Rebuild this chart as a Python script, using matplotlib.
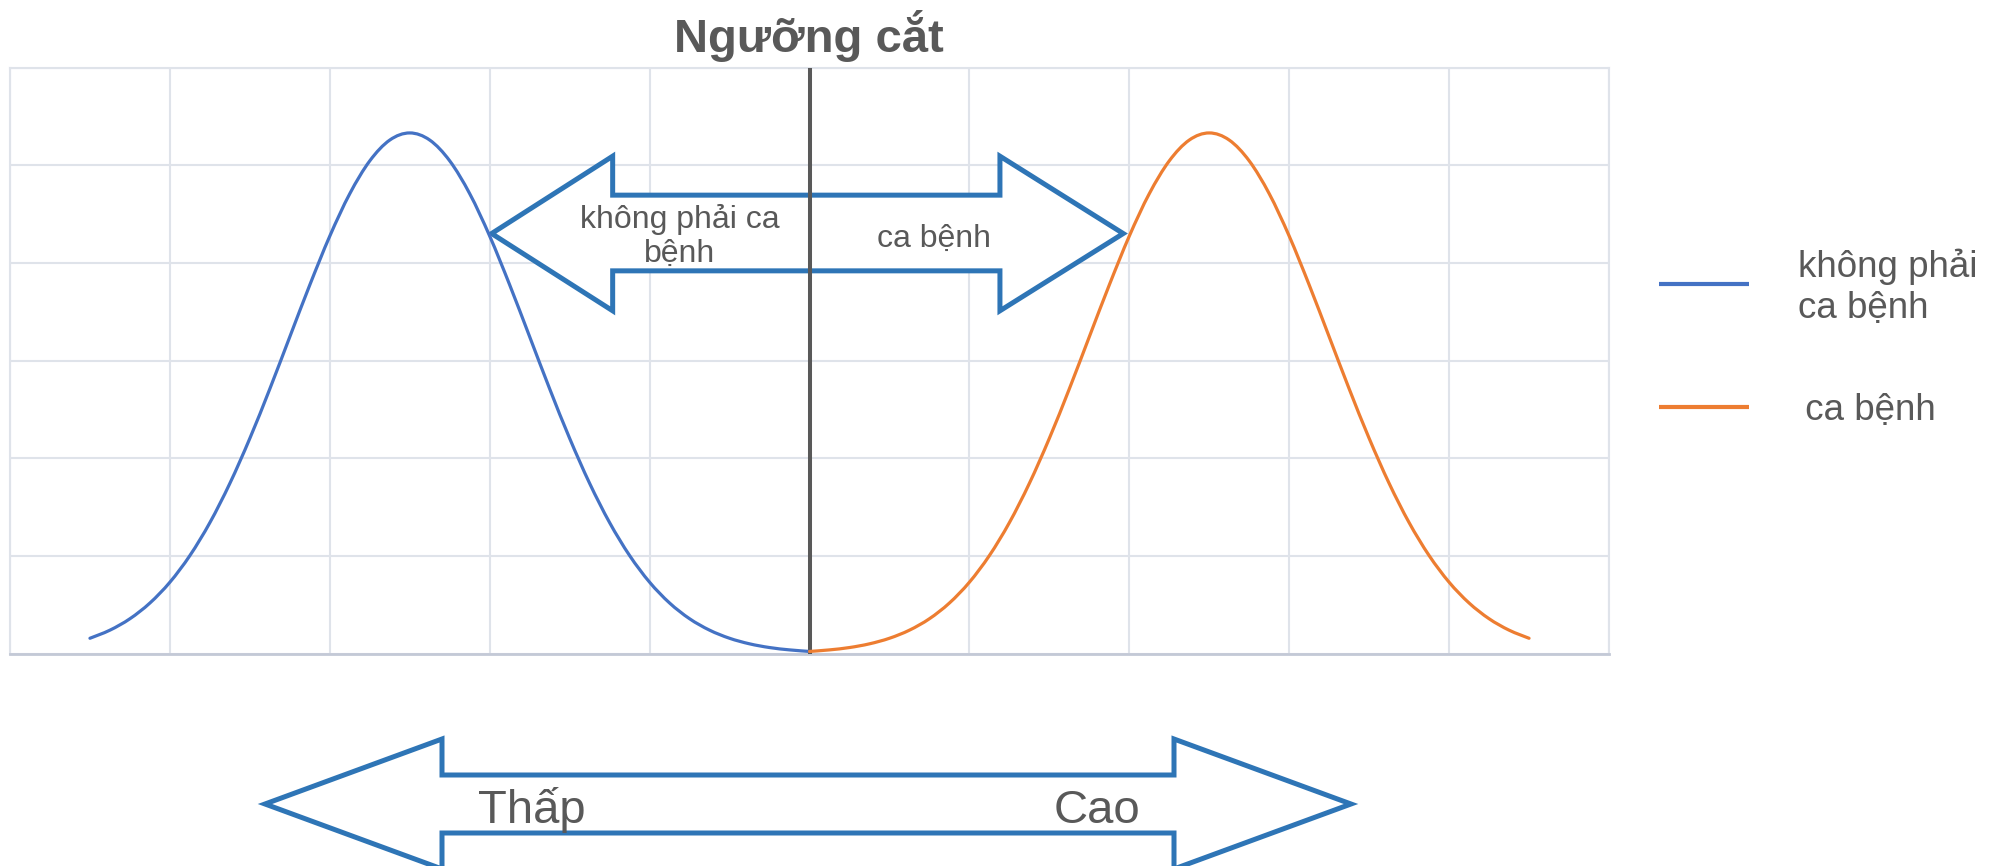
import matplotlib
matplotlib.use("Agg")
import matplotlib.pyplot as plt
import numpy as np
from matplotlib.patches import Polygon, PathPatch
from matplotlib.path import Path

plt.rcParams['font.family'] = ['Liberation Sans', 'DejaVu Sans']

# ---- data -------------------------------------------------------------
series_names = ["không phải\nca bệnh", " ca bệnh"]
series_colors = ["#4472C4", "#ED7D31"]

x_non_case = [0.5, 0.625, 0.75, 0.875, 1.0, 1.125, 1.25, 1.375, 1.5, 1.625,
              1.75, 1.875, 2.0, 2.125, 2.25, 2.375, 2.5, 2.625, 2.75, 2.875,
              3.0, 3.125, 3.25, 3.375, 3.5, 3.625, 3.75, 3.875, 4.0, 4.125,
              4.25, 4.375, 4.5, 4.625, 4.75, 4.875, 5.0]
y_non_case = [0.156, 0.239, 0.356, 0.517, 0.730, 1.003, 1.340, 1.742, 2.203, 2.710,
              3.243, 3.774, 4.274, 4.708, 5.044, 5.257, 5.330, 5.257, 5.044, 4.708,
              4.274, 3.774, 3.243, 2.710, 2.203, 1.742, 1.340, 1.003, 0.730, 0.517,
              0.356, 0.239, 0.156, 0.099, 0.061, 0.037, 0.021]

x_case = [5.0, 5.125, 5.25, 5.375, 5.5, 5.625, 5.75, 5.875, 6.0, 6.125,
          6.25, 6.375, 6.5, 6.625, 6.75, 6.875, 7.0, 7.125, 7.25, 7.375,
          7.5, 7.625, 7.75, 7.875, 8.0, 8.125, 8.25, 8.375, 8.5, 8.625,
          8.75, 8.875, 9.0, 9.125, 9.25, 9.375, 9.5]
y_case = [0.021, 0.037, 0.061, 0.099, 0.156, 0.239, 0.356, 0.517, 0.730, 1.003,
          1.340, 1.742, 2.203, 2.710, 3.243, 3.774, 4.274, 4.708, 5.044, 5.257,
          5.330, 5.257, 5.044, 4.708, 4.274, 3.774, 3.243, 2.710, 2.203, 1.742,
          1.340, 1.003, 0.730, 0.517, 0.356, 0.239, 0.156]

cutoff = 5.0
title_text = "Ngưỡng cắt"
arrow_left_text = "không phải ca\nbệnh"
arrow_right_text = "ca bệnh"
scale_low_text = "Thấp"
scale_high_text = "Cao"


def smooth_path(xs, ys):
    """Smoothed line through the points (Catmull-Rom as cubic Bezier)."""
    p = np.column_stack([xs, ys]).astype(float)
    ext = np.vstack([p[0], p, p[-1]])
    verts = [p[0]]
    codes = [Path.MOVETO]
    for i in range(len(p) - 1):
        p0, p1, p2, p3 = ext[i], ext[i + 1], ext[i + 2], ext[i + 3]
        verts += [p1 + (p2 - p0) / 6.0, p2 - (p3 - p1) / 6.0, p2]
        codes += [Path.CURVE4] * 3
    return Path(verts, codes)


# ---- figure -----------------------------------------------------------
W, H = 1997, 866
fig = plt.figure(figsize=(W / 100, H / 100), dpi=100)
fig.patch.set_facecolor("white")

TEXT = "#595959"
GRID = "#DFE3EA"
ARROW = "#2E75B6"

left_px, right_px, top_px, bottom_px = 10, 1609, 67.5, 653.5
ax = fig.add_axes([left_px / W, (H - bottom_px) / H,
                   (right_px - left_px) / W, (bottom_px - top_px) / H])
ax.set_xlim(0, 10)
ax.set_ylim(0, 6)
ax.set_xticks(range(0, 11))
ax.set_yticks(range(0, 7))
ax.tick_params(length=0, labelbottom=False, labelleft=False)
ax.set_axisbelow(True)
ax.grid(True, color=GRID, linewidth=1.5)
for side in ("left", "top", "right"):
    ax.spines[side].set_color(GRID)
    ax.spines[side].set_linewidth(1.5)
ax.spines["bottom"].set_color("#C3C9D6")
ax.spines["bottom"].set_linewidth(2.0)

# cut-off arrow inside the plot
up_arrow = [(3.012, 4.30), (3.769, 5.092), (3.769, 4.693), (6.191, 4.693),
            (6.191, 5.092), (6.962, 4.30), (6.191, 3.509), (6.191, 3.918),
            (3.769, 3.918), (3.769, 3.509)]
ax.add_patch(Polygon(up_arrow, closed=True, facecolor="white", edgecolor=ARROW,
                     linewidth=3.6, joinstyle="miter", zorder=3))
ax.text(4.19, 4.007, arrow_left_text, ha="center", va="baseline", fontsize=23,
        color=TEXT, linespacing=1.2, zorder=6)
ax.text(5.42, 4.16, arrow_right_text, ha="left", va="baseline", fontsize=23,
        color=TEXT, zorder=6)

# distributions
for xs, ys, col in ((x_non_case, y_non_case, series_colors[0]),
                    (x_case, y_case, series_colors[1])):
    ax.add_patch(PathPatch(smooth_path(xs, ys), fill=False, edgecolor=col,
                           linewidth=2.3, capstyle="round", joinstyle="round",
                           zorder=5, clip_on=False))
ax.axvline(cutoff, color=TEXT, linewidth=2.9, zorder=4)

# ---- overlay in pixel coordinates ------------------------------------
ov = fig.add_axes([0, 0, 1, 1], facecolor="none")
ov.set_xlim(0, W)
ov.set_ylim(H, 0)
ov.axis("off")

fig.text(809 / W, 1 - 52 / H, title_text, ha="center", va="baseline",
         fontsize=34, fontweight="bold", color=TEXT)

# legend
legend_y = [284, 407]
label_x = [1798, 1795]
label_base = [318, 420]
for name, col, ly, lx, lb in zip(series_names, series_colors, legend_y, label_x, label_base):
    ov.plot([1659, 1749], [ly, ly], color=col, linewidth=3.0, solid_capstyle="butt")
    ov.text(lx, lb, name, ha="left", va="baseline", fontsize=26.5,
            color=TEXT, linespacing=1.22)

# low / high scale arrow
low_arrow = [(265, 804), (442, 739), (442, 775), (1174, 775), (1174, 739),
             (1351, 804), (1174, 869), (1174, 833), (442, 833), (442, 869)]
ov.add_patch(Polygon(low_arrow, closed=True, facecolor="white", edgecolor=ARROW,
                     linewidth=3.6, joinstyle="miter", clip_on=False))
ov.text(478, 823, scale_low_text, ha="left", va="baseline", fontsize=34, color=TEXT)
ov.text(1054, 823, scale_high_text, ha="left", va="baseline", fontsize=34, color=TEXT)

fig.savefig("out.png", dpi=100, facecolor="white")
